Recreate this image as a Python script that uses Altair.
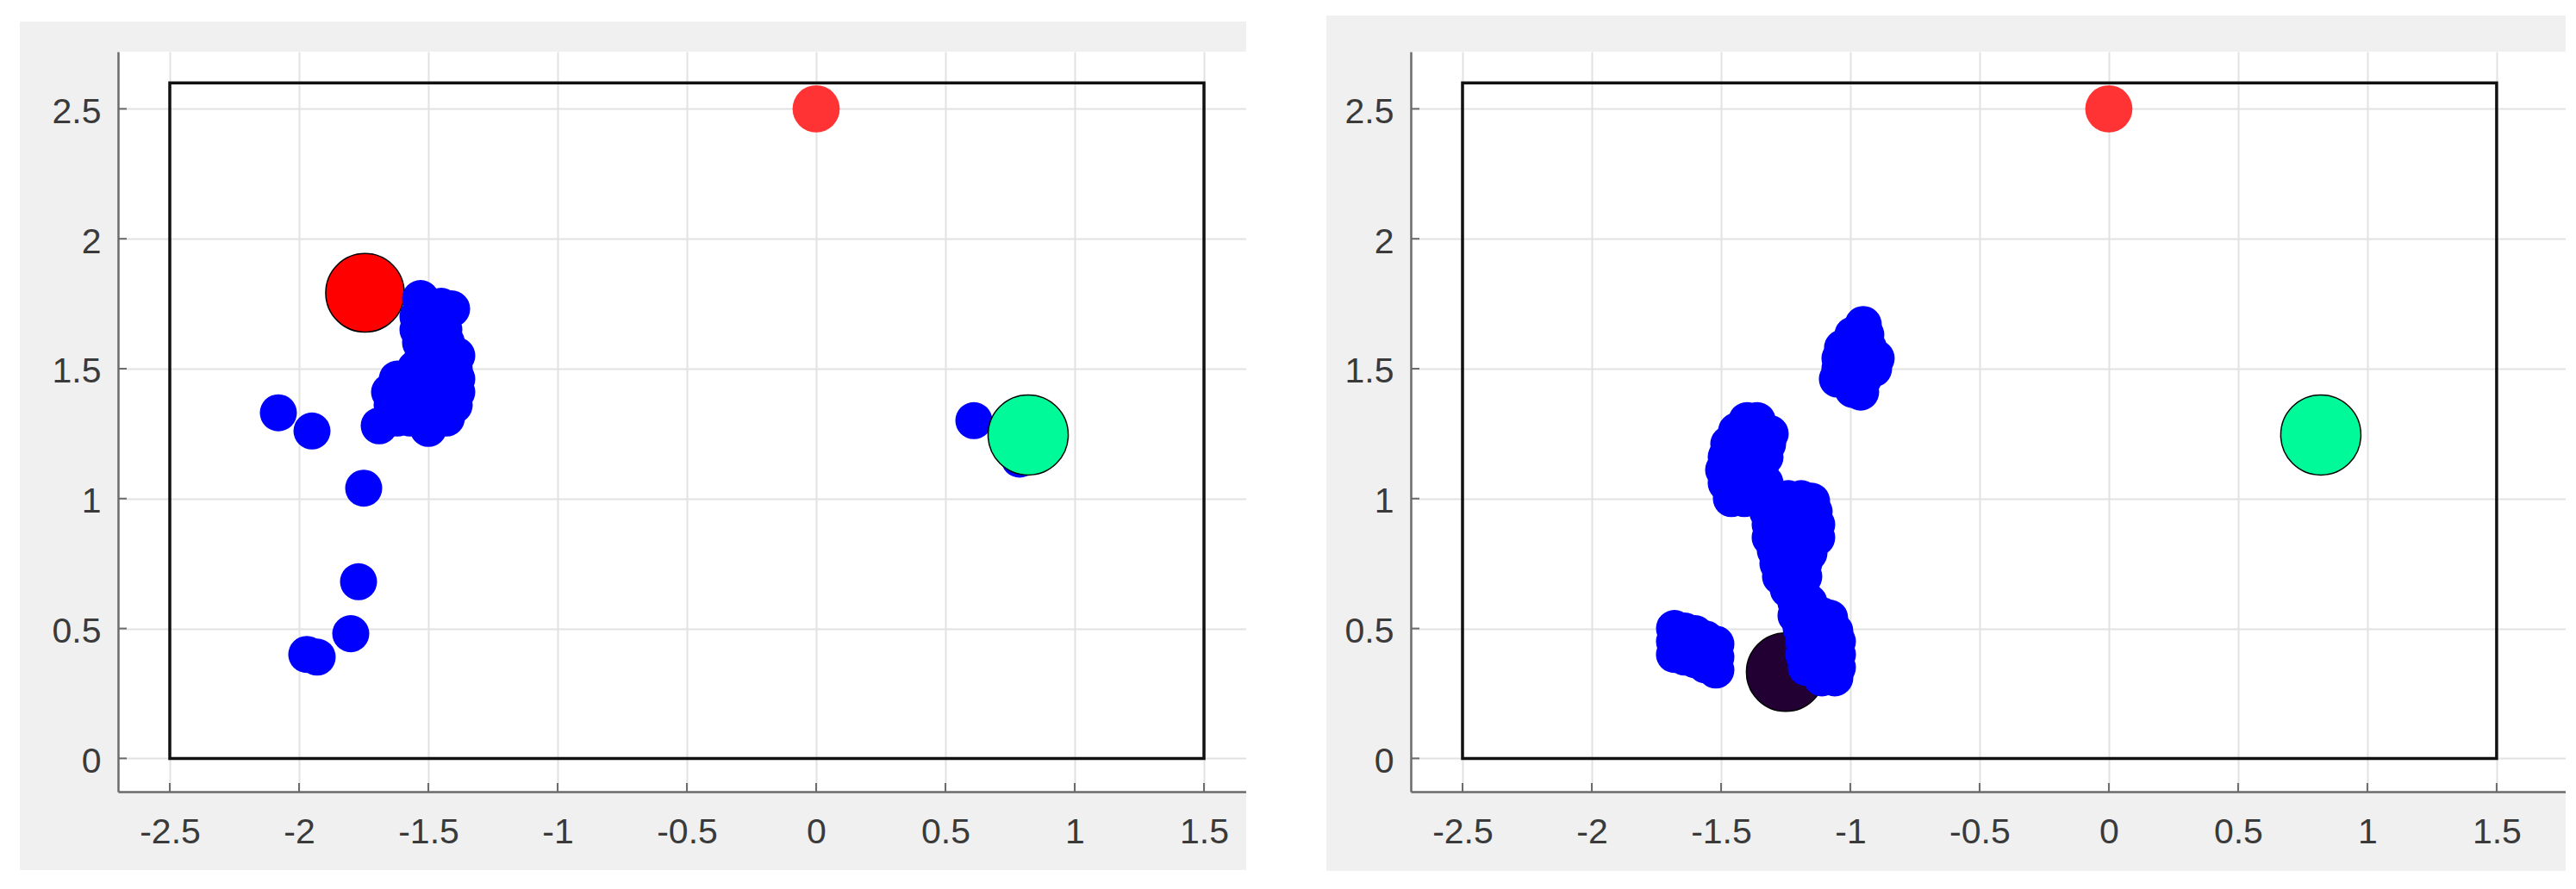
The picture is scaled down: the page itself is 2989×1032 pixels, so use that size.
import altair as alt
import pandas as pd

# ---------------- data ----------------
x_ticks = [-2.5, -2, -1.5, -1, -0.5, 0, 0.5, 1, 1.5]
y_ticks = [0, 0.5, 1, 1.5, 2, 2.5]

box_x = [-2.5, 1.5]
box_y = [0.0, 2.6]

target_x = [0.0]
target_y = [2.5]

goal_x = [0.82]
goal_y = [1.245]

left_robot_x = [-1.745]
left_robot_y = [1.792]
right_robot_x = [-1.25]
right_robot_y = [0.332]

# left panel: robot positions (blue)
left_cluster = [
    (-1.53, 1.77),
    (-1.50, 1.74), (-1.45, 1.74), (-1.41, 1.73),
    (-1.54, 1.70), (-1.49, 1.70), (-1.44, 1.70),
    (-1.54, 1.65), (-1.49, 1.65), (-1.44, 1.65),
    (-1.53, 1.60), (-1.48, 1.60), (-1.43, 1.60),
    (-1.52, 1.55), (-1.47, 1.55), (-1.42, 1.55), (-1.39, 1.55),
    (-1.55, 1.50), (-1.50, 1.50), (-1.45, 1.50), (-1.40, 1.50),
    (-1.62, 1.46), (-1.57, 1.46), (-1.52, 1.46), (-1.47, 1.46), (-1.42, 1.46), (-1.39, 1.46),
    (-1.65, 1.41), (-1.60, 1.41), (-1.55, 1.41), (-1.50, 1.41), (-1.45, 1.41), (-1.39, 1.41),
    (-1.64, 1.36), (-1.59, 1.36), (-1.54, 1.36), (-1.49, 1.36), (-1.44, 1.36), (-1.40, 1.36),
    (-1.62, 1.31), (-1.57, 1.31), (-1.52, 1.31), (-1.47, 1.31), (-1.43, 1.31),
    (-1.69, 1.28), (-1.50, 1.27),
]
left_scattered = [
    (-2.08, 1.33), (-1.95, 1.26), (-1.75, 1.04), (-1.77, 0.68), (-1.80, 0.48),
    (-1.97, 0.40), (-1.93, 0.39), (0.61, 1.30), (0.787, 1.152),
]

# right panel: robot positions (blue)
right_blob_a = [
    (-0.95, 1.67),
    (-0.99, 1.63), (-0.94, 1.63),
    (-1.03, 1.58), (-0.98, 1.58), (-0.93, 1.58),
    (-1.04, 1.54), (-0.99, 1.54), (-0.94, 1.54), (-0.90, 1.54),
    (-1.04, 1.50), (-0.99, 1.50), (-0.94, 1.50), (-0.91, 1.50),
    (-1.05, 1.46), (-1.00, 1.46), (-0.95, 1.46),
    (-0.99, 1.42), (-0.96, 1.41),
]
right_blob_b = [
    (-1.40, 1.30), (-1.36, 1.30),
    (-1.44, 1.26), (-1.39, 1.26), (-1.34, 1.26), (-1.31, 1.25),
    (-1.47, 1.21), (-1.42, 1.21), (-1.37, 1.21), (-1.32, 1.21),
    (-1.48, 1.16), (-1.43, 1.16), (-1.38, 1.16), (-1.33, 1.16),
    (-1.49, 1.11), (-1.44, 1.11), (-1.39, 1.11), (-1.35, 1.11),
    (-1.48, 1.06), (-1.43, 1.06), (-1.38, 1.06), (-1.33, 1.06),
    (-1.46, 1.00), (-1.41, 1.00), (-1.36, 1.00), (-1.31, 1.01),
]
right_blob_c = [
    (-1.29, 1.00), (-1.24, 1.00), (-1.19, 1.00), (-1.15, 0.99),
    (-1.32, 0.95), (-1.27, 0.95), (-1.22, 0.95), (-1.17, 0.95), (-1.14, 0.95),
    (-1.31, 0.90), (-1.26, 0.90), (-1.21, 0.90), (-1.16, 0.90), (-1.13, 0.90),
    (-1.31, 0.85), (-1.26, 0.85), (-1.21, 0.85), (-1.16, 0.85), (-1.13, 0.85),
    (-1.29, 0.80), (-1.24, 0.80), (-1.19, 0.80), (-1.16, 0.79),
    (-1.28, 0.75), (-1.23, 0.75), (-1.18, 0.75),
    (-1.27, 0.70), (-1.22, 0.70), (-1.18, 0.70),
    (-1.24, 0.65), (-1.19, 0.65),
]
right_blob_d = [
    (-1.21, 0.60), (-1.16, 0.60),
    (-1.21, 0.55), (-1.16, 0.55), (-1.11, 0.55), (-1.08, 0.54),
    (-1.19, 0.50), (-1.14, 0.50), (-1.09, 0.50), (-1.06, 0.49),
    (-1.18, 0.45), (-1.13, 0.45), (-1.08, 0.45), (-1.05, 0.45),
    (-1.18, 0.40), (-1.13, 0.40), (-1.08, 0.40), (-1.05, 0.40),
    (-1.17, 0.35), (-1.12, 0.35), (-1.07, 0.35), (-1.05, 0.35),
    (-1.11, 0.31), (-1.06, 0.31),
]
right_blob_e = [
    (-1.68, 0.50), (-1.68, 0.45), (-1.68, 0.40),
    (-1.64, 0.49), (-1.64, 0.44), (-1.64, 0.39),
    (-1.60, 0.48), (-1.60, 0.43), (-1.60, 0.38),
    (-1.56, 0.46), (-1.56, 0.41), (-1.56, 0.36),
    (-1.52, 0.44), (-1.52, 0.39), (-1.52, 0.34),
]

left_blue = left_cluster + left_scattered
right_blue = right_blob_a + right_blob_b + right_blob_c + right_blob_d + right_blob_e

# ---------------- style ----------------
H = 859
Y_DOMAIN = [-0.128, 2.72]
PANEL_GRAY = "#f0f0f0"
AXIS_COLOR = "#6b6b6b"
GRID_COLOR = "#e2e2e2"
LABEL_COLOR = "#3a3a3a"
FONT = "Liberation Sans"

AXIS_X = alt.Axis(values=x_ticks, title=None, grid=True, gridColor=GRID_COLOR, gridWidth=2,
                  ticks=False, tickSize=0, domainColor=AXIS_COLOR, domainWidth=2.5,
                  labelFont=FONT, labelFontSize=41, labelColor=LABEL_COLOR,
                  labelPadding=27, labelFlush=False, labelOverlap=False,
                  labelExpr="'' + datum.value")
AXIS_Y = alt.Axis(values=y_ticks, title=None, grid=True, gridColor=GRID_COLOR, gridWidth=2,
                  ticks=False, tickSize=0, domainColor=AXIS_COLOR, domainWidth=2.5,
                  labelFont=FONT, labelFontSize=41, labelColor=LABEL_COLOR,
                  labelPadding=20, labelOffset=4, labelFlush=False, labelOverlap=False,
                  labelExpr="'' + datum.value")


def white_strip(x1, x2, y1, y2):
    return alt.Chart(pd.DataFrame({"k": [0]})).mark_rect(color="white").encode(
        x=alt.value(x1), x2=alt.value(x2), y=alt.value(y1), y2=alt.value(y2))


def panel(W, xdom, strips, rx, ry, rcolor, blue_pts):
    xs = alt.Scale(domain=xdom, nice=False, zero=False)
    ys = alt.Scale(domain=Y_DOMAIN, nice=False, zero=False)

    def X(f):
        return alt.X(f, scale=xs, axis=AXIS_X)

    def Y(f):
        return alt.Y(f, scale=ys, axis=AXIS_Y)

    xt = pd.DataFrame({"v": x_ticks})
    yt = pd.DataFrame({"v": y_ticks})

    xtick = alt.Chart(xt).mark_rule(color=AXIS_COLOR, strokeWidth=2).encode(
        x=X("v:Q"), y=alt.value(H), y2=alt.value(H - 10))
    ytick = alt.Chart(yt).mark_rule(color=AXIS_COLOR, strokeWidth=2).encode(
        y=Y("v:Q"), x=alt.value(0), x2=alt.value(10))

    box = alt.Chart(pd.DataFrame({"x": [box_x[0]], "x2": [box_x[1]],
                                  "y": [box_y[0]], "y2": [box_y[1]]})).mark_rect(
        fillOpacity=0, stroke="#111111", strokeWidth=3.5).encode(
        x=X("x:Q"), x2="x2:Q", y=Y("y:Q"), y2="y2:Q")

    robot = alt.Chart(pd.DataFrame({"x": rx, "y": ry})).mark_circle(
        fill=rcolor, stroke="black", strokeWidth=1.5, size=8300, opacity=1).encode(
        x=X("x:Q"), y=Y("y:Q"))

    bdf = pd.DataFrame(blue_pts, columns=["x", "y"])
    blue = alt.Chart(bdf).mark_circle(color="#0000ff", size=1850, opacity=1).encode(
        x=X("x:Q"), y=Y("y:Q"))

    goal = alt.Chart(pd.DataFrame({"x": goal_x, "y": goal_y})).mark_circle(
        fill="#00fa9a", stroke="black", strokeWidth=1.5, size=8650, opacity=1).encode(
        x=X("x:Q"), y=Y("y:Q"))

    target = alt.Chart(pd.DataFrame({"x": target_x, "y": target_y})).mark_circle(
        color="#ff3333", size=3000, opacity=1).encode(
        x=X("x:Q"), y=Y("y:Q"))

    layers = [white_strip(*s) for s in strips]
    layers += [xtick, ytick, box, robot, blue, goal, target]
    return alt.layer(*layers).properties(width=W, height=H)


WL = 1309
WR = 1340
left_strips = [
    (-129, -114, -52, H + 105),        # page-side margin
    (-129, WL + 93, -52, -35),         # top margin
    (-129, WL + 93, H + 91, H + 105),  # bottom margin
    (WL, WL + 93, -52, H + 105),       # gap between the two panels
]
right_strips = [
    (-98, WR, -52, -42),
    (-98, WR, H + 92, H + 105),
]

left = panel(WL, [-2.7, 1.6633], left_strips,
             left_robot_x, left_robot_y, "#ff0000", left_blue)
right = panel(WR, [-2.7, 1.767], right_strips,
              right_robot_x, right_robot_y, "#220033", right_blue)

chart = alt.hconcat(left, right, spacing=191, bounds="flush").properties(
    padding=0, background=PANEL_GRAY
).configure_view(strokeWidth=0, fill="white")

chart.save("out.html", embed_options={"renderer": "svg", "actions": False})
